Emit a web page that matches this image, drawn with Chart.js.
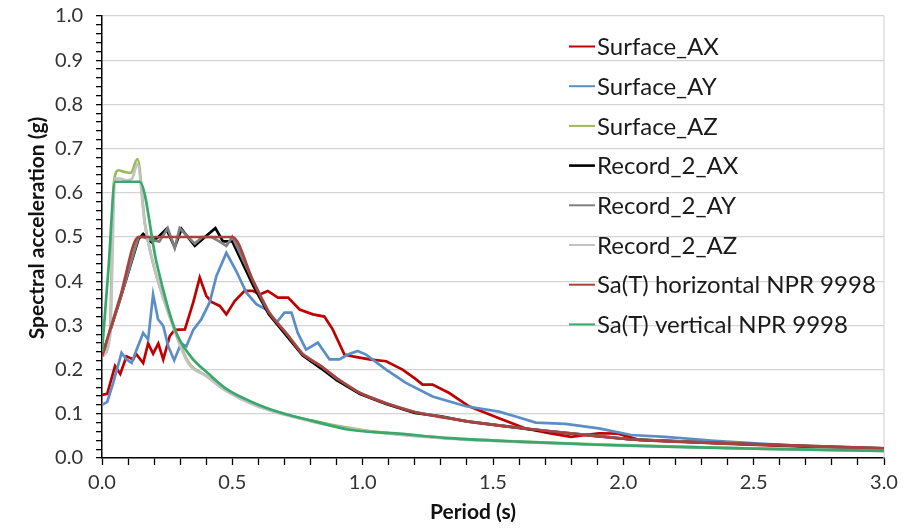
<!DOCTYPE html>
<html>
<head>
<meta charset="utf-8">
<script src="https://cdn.jsdelivr.net/npm/chart.js@4.4.1/dist/chart.umd.min.js"></script>
<style>
  html, body { margin: 0; padding: 0; background: #fff; }
  #wrap { width: 904px; height: 529px; }
</style>
</head>
<body>
<div id="wrap"><canvas id="spectra" width="904" height="529"></canvas></div>
<script>
// ---- data: period (s) and spectral acceleration (g) ----
const periodSurfAX = [0, 0.02, 0.05, 0.07, 0.094, 0.12, 0.13, 0.158, 0.177, 0.196,
    0.216, 0.235, 0.26, 0.279, 0.318, 0.35, 0.375, 0.40, 0.42, 0.452,
    0.477, 0.509, 0.547, 0.579, 0.605, 0.636, 0.675, 0.714, 0.758, 0.809,
    0.853, 0.885, 0.93, 0.962, 1.026, 1.09, 1.153, 1.2, 1.23, 1.268,
    1.332, 1.408, 1.523, 1.625, 1.715, 1.80, 1.906, 1.98, 2.06, 2.22,
    2.41, 2.67, 3.0];
const surfAX = [0.143, 0.145, 0.208, 0.19, 0.23, 0.223, 0.236, 0.215, 0.259, 0.236,
    0.259, 0.223, 0.276, 0.29, 0.291, 0.352, 0.408, 0.367, 0.353, 0.344,
    0.325, 0.355, 0.378, 0.378, 0.370, 0.378, 0.363, 0.363, 0.336, 0.325,
    0.32, 0.291, 0.234, 0.23, 0.223, 0.219, 0.20, 0.18, 0.166, 0.166,
    0.147, 0.117, 0.090, 0.067, 0.056, 0.048, 0.056, 0.055, 0.041, 0.037,
    0.032, 0.026, 0.020];

const periodSurfAY = [0, 0.02, 0.043, 0.075, 0.094, 0.114, 0.13, 0.158, 0.177, 0.196,
    0.215, 0.235, 0.254, 0.277, 0.303, 0.324, 0.35, 0.381, 0.413, 0.439,
    0.477, 0.515, 0.554, 0.592, 0.63, 0.669, 0.70, 0.727, 0.751, 0.783,
    0.828, 0.873, 0.911, 0.943, 0.981, 1.013, 1.09, 1.166, 1.268, 1.396,
    1.523, 1.587, 1.664, 1.778, 1.906, 2.03, 2.16, 2.35, 2.54, 2.735, 3.0];
const surfAY = [0.12, 0.127, 0.17, 0.238, 0.223, 0.215, 0.241, 0.283, 0.268, 0.370,
    0.314, 0.299, 0.253, 0.221, 0.259, 0.253, 0.29, 0.314, 0.352, 0.412,
    0.464, 0.423, 0.374, 0.348, 0.336, 0.306, 0.329, 0.329, 0.283, 0.245,
    0.261, 0.223, 0.223, 0.234, 0.242, 0.234, 0.20, 0.17, 0.139, 0.117,
    0.105, 0.094, 0.080, 0.077, 0.067, 0.052, 0.048, 0.039, 0.032, 0.026, 0.021];

const periodSurfAZ = [0, 0.03, 0.045, 0.063, 0.082, 0.11, 0.136, 0.165, 0.196, 0.228,
    0.28, 0.33, 0.40, 0.48, 0.59, 0.8, 1.0, 1.3, 1.6, 2.0, 2.5, 3.0];
const surfAZ = [0.23, 0.28, 0.62, 0.651, 0.648, 0.645, 0.676, 0.53, 0.44, 0.375,
    0.29, 0.218, 0.186, 0.152, 0.12, 0.085, 0.063, 0.046, 0.037, 0.029, 0.021, 0.016];

const periodRecAX = [0, 0.07, 0.14, 0.158, 0.19, 0.216, 0.247, 0.279, 0.305, 0.356,
    0.395, 0.435, 0.464, 0.5, 0.58, 0.64, 0.71, 0.77, 0.84, 0.9,
    0.99, 1.09, 1.2, 1.3, 1.4, 1.65, 2.03, 2.4, 2.75, 3.0];
const recAX = [0.23, 0.36, 0.495, 0.507, 0.488, 0.50, 0.518, 0.477, 0.518, 0.48,
    0.50, 0.52, 0.49, 0.49, 0.39, 0.325, 0.275, 0.232, 0.203, 0.176,
    0.145, 0.122, 0.102, 0.094, 0.083, 0.064, 0.042, 0.033, 0.026, 0.022];

const periodRecAY = [0, 0.07, 0.14, 0.158, 0.19, 0.22, 0.252, 0.279, 0.298, 0.33,
    0.356, 0.385, 0.42, 0.45, 0.477, 0.5, 0.58, 0.64, 0.71, 0.77,
    0.84, 0.9, 0.99, 1.09, 1.2, 1.4, 1.65, 2.03, 2.4, 3.0];
const recAY = [0.23, 0.36, 0.5, 0.50, 0.493, 0.49, 0.52, 0.475, 0.52, 0.50,
    0.485, 0.50, 0.50, 0.49, 0.48, 0.5, 0.40, 0.33, 0.28, 0.235,
    0.208, 0.18, 0.147, 0.124, 0.104, 0.083, 0.065, 0.042, 0.033, 0.022];

const periodRecAZ = [0, 0.031, 0.05, 0.069, 0.094, 0.115, 0.136, 0.165, 0.196, 0.228,
    0.28, 0.33, 0.40, 0.48, 0.59, 0.8, 1.0, 1.3, 1.6, 2.0, 2.5, 3.0];
const recAZ = [0.23, 0.276, 0.632, 0.632, 0.628, 0.632, 0.665, 0.526, 0.442, 0.374,
    0.285, 0.215, 0.185, 0.150, 0.118, 0.083, 0.062, 0.045, 0.036, 0.028, 0.021, 0.016];

const periodNprH = [0, 0.07, 0.14, 0.5, 0.58, 0.64, 0.71, 0.77, 0.84, 0.9, 0.99,
    1.09, 1.2, 1.4, 1.65, 2.03, 2.4, 3.0];
const nprH = [0.23, 0.365, 0.5, 0.5, 0.40, 0.33, 0.28, 0.235, 0.208, 0.181, 0.147,
    0.124, 0.104, 0.083, 0.065, 0.042, 0.033, 0.022];

const periodNprV = [0, 0.025, 0.05, 0.145, 0.21, 0.28, 0.34, 0.41, 0.48, 0.59, 0.7,
    0.8, 0.95, 1.14, 1.33, 1.6, 1.9, 2.2, 2.5, 3.0];
const nprV = [0.24, 0.43, 0.625, 0.625, 0.44, 0.29, 0.23, 0.19, 0.155, 0.123, 0.10,
    0.085, 0.064, 0.055, 0.045, 0.037, 0.03, 0.025, 0.021, 0.016];

const seriesLabels = ['Surface_AX', 'Surface_AY', 'Surface_AZ', 'Record_2_AX',
    'Record_2_AY', 'Record_2_AZ', 'Sa(T) horizontal NPR 9998', 'Sa(T) vertical NPR 9998'];
const seriesColors = ['#c00000', '#5b8ec6', '#9bbb59', '#000000',
    '#808080', '#c3c3c3', '#a8423f', '#3aa86c'];

const xTitle = 'Period (s)';
const yTitle = 'Spectral acceleration (g)';

const FONT = 'Lato, "Open Sans", sans-serif';

function toPoints(periods, values) {
    return periods.map((t, i) => ({ x: t, y: values[i] }));
}

function isMultiple(v, step) {
    const r = v / step;
    return Math.abs(r - Math.round(r)) < 1e-6;
}

const seriesData = [
    toPoints(periodSurfAX, surfAX),
    toPoints(periodSurfAY, surfAY),
    toPoints(periodSurfAZ, surfAZ),
    toPoints(periodRecAX, recAX),
    toPoints(periodRecAY, recAY),
    toPoints(periodRecAZ, recAZ),
    toPoints(periodNprH, nprH),
    toPoints(periodNprV, nprV)
];

const smoothSeries = [2, 5, 6, 7];

const datasets = seriesData.map((pts, i) => ({
    label: seriesLabels[i],
    data: pts,
    borderColor: seriesColors[i],
    backgroundColor: seriesColors[i],
    borderWidth: 2.7,
    pointRadius: 0,
    fill: false,
    order: seriesData.length - i,
    cubicInterpolationMode: smoothSeries.includes(i) ? 'monotone' : 'default',
    tension: 0
}));


/* ==============================
   PLUGINS: legend, titles, frame
================================= */

const framePlugin = {
    id: 'frame',
    beforeDatasetsDraw(chart) {
        const { ctx, chartArea } = chart;
        ctx.save();
        ctx.strokeStyle = '#d9d9d9';
        ctx.lineWidth = 1.3;
        ctx.beginPath();
        ctx.moveTo(chartArea.right, chartArea.top);
        ctx.lineTo(chartArea.right, chartArea.bottom);
        ctx.stroke();
        ctx.restore();
    }
};

const legendPlugin = {
    id: 'insideLegend',
    afterDraw(chart) {
        const { ctx, chartArea } = chart;
        const x0 = chartArea.left + 467;
        const y0 = chartArea.top + 30.5;
        const gap = 39.7;
        ctx.save();
        ctx.font = '24px ' + FONT;
        ctx.textBaseline = 'middle';
        ctx.fillStyle = '#1a1a1a';
        chart.data.datasets.forEach((ds, i) => {
            const y = y0 + i * gap;
            ctx.strokeStyle = ds.borderColor;
            ctx.lineWidth = i === 3 ? 2.6 : 2;
            ctx.beginPath();
            ctx.moveTo(x0, y);
            ctx.lineTo(x0 + 26, y);
            ctx.stroke();
            ctx.fillText(ds.label, x0 + 28, y + 1);
        });
        ctx.restore();
    }
};

const titlePlugin = {
    id: 'axisTitles',
    afterDraw(chart) {
        const { ctx } = chart;
        ctx.save();
        ctx.font = 'bold 21px ' + FONT;
        ctx.fillStyle = '#111';
        ctx.textAlign = 'center';
        ctx.textBaseline = 'middle';
        ctx.fillText(xTitle, 473, 512);
        ctx.translate(37, 228);
        ctx.rotate(-Math.PI / 2);
        ctx.fillText(yTitle, 0, 0);
        ctx.restore();
    }
};


/* ==============================
   CHART
================================= */

new Chart(document.getElementById('spectra').getContext('2d'), {
    type: 'line',
    data: { datasets },
    options: {
        responsive: false,
        animation: false,
        events: [],
        layout: { padding: { top: 16, right: 20, left: 0, bottom: 0 } },
        plugins: {
            legend: { display: false },
            tooltip: { enabled: false }
        },
        scales: {
            x: {
                type: 'linear',
                min: 0,
                max: 3,
                afterFit: (scale) => {
                    scale.height = 71;
                    scale.paddingLeft = 0;
                    scale.paddingRight = 0;
                },
                ticks: {
                    stepSize: 0.1,
                    autoSkip: false,
                    maxRotation: 0,
                    padding: 6,
                    color: '#333',
                    font: { family: FONT, size: 20 },
                    callback: (v) => isMultiple(v, 0.5) ? v.toFixed(1) : ''
                },
                grid: {
                    drawOnChartArea: false,
                    drawTicks: true,
                    tickLength: 7,
                    tickColor: '#000',
                    tickWidth: 1.3
                },
                border: { color: '#000', width: 1.5 }
            },
            y: {
                min: 0,
                max: 1,
                afterFit: (scale) => {
                    scale.width = 102;
                    scale.paddingTop = 0;
                    scale.paddingBottom = 0;
                },
                ticks: {
                    stepSize: 0.02,
                    autoSkip: false,
                    padding: 13,
                    color: '#333',
                    font: { family: FONT, size: 20 },
                    callback: (v) => isMultiple(v, 0.1) ? v.toFixed(1) : ''
                },
                grid: {
                    color: (c) => (c.tick && isMultiple(c.tick.value, 0.1) && c.tick.value > 0.001)
                        ? '#d4d4d4' : 'rgba(0,0,0,0)',
                    lineWidth: 1.3,
                    drawTicks: true,
                    tickLength: 6,
                    tickColor: '#000',
                    tickWidth: 1.3
                },
                border: { color: '#000', width: 1.5 }
            }
        }
    },
    plugins: [framePlugin, legendPlugin, titlePlugin]
});
</script>
</body>
</html>
